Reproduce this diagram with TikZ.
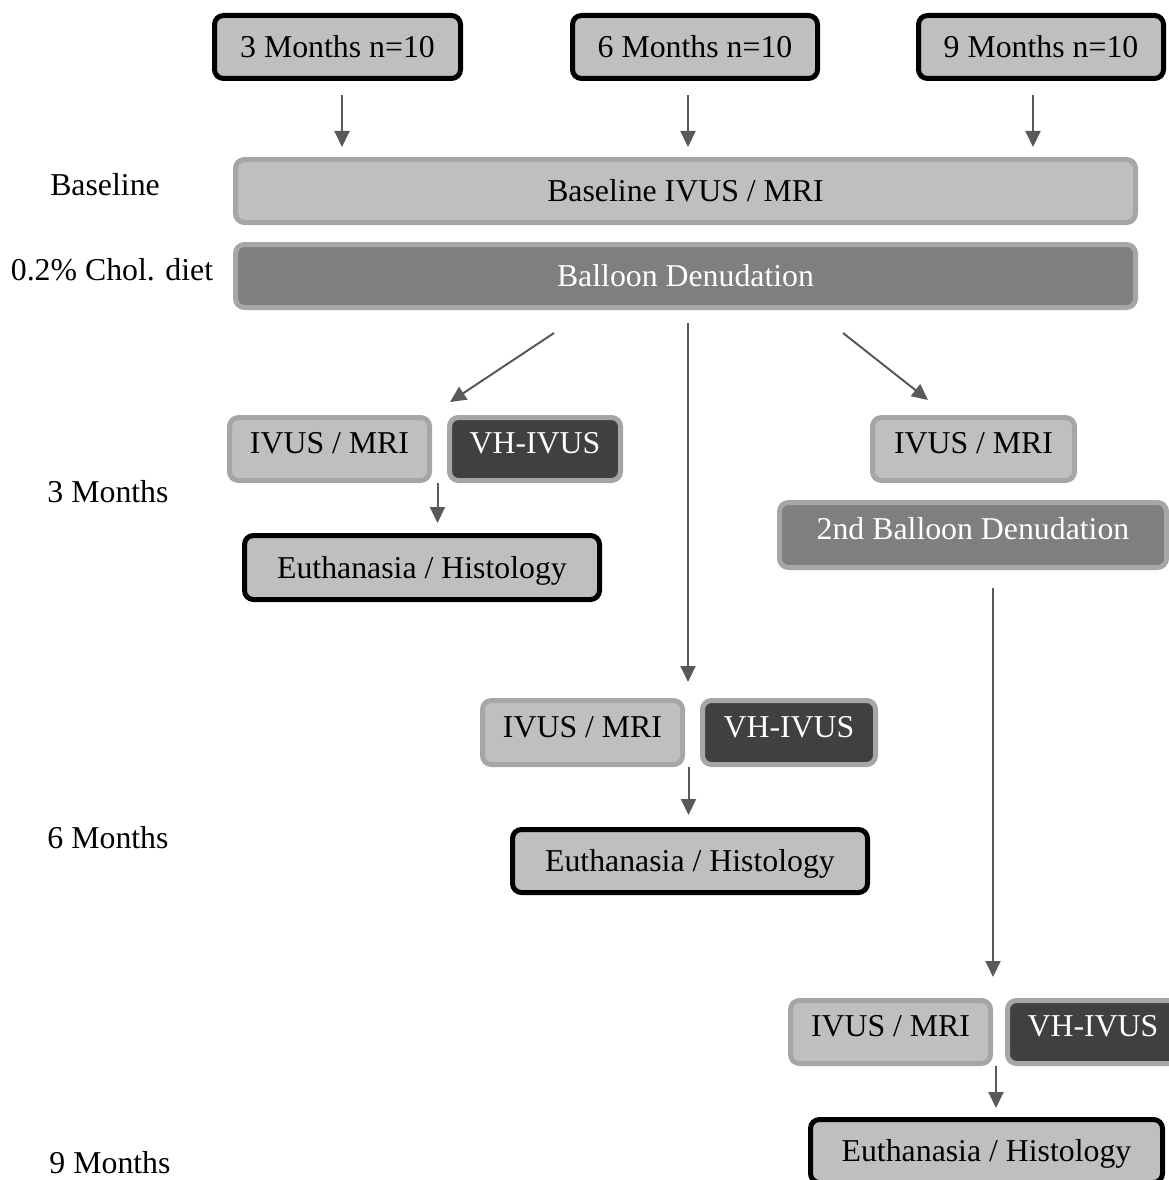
\documentclass[tikz,border=0pt]{standalone}
\usepackage{fontspec}
\setmainfont{Liberation Serif}
\usetikzlibrary{arrows.meta,calc}
\definecolor{lightf}{HTML}{BFBFBF}
\definecolor{bord}{HTML}{A6A6A6}
\definecolor{midf}{HTML}{7F7F7F}
\definecolor{darkf}{HTML}{404040}
\definecolor{arrc}{HTML}{595959}
\begin{document}
\begin{tikzpicture}[x=1pt,y=-1pt,
 every node/.style={font=\fontsize{31.8}{38}\selectfont, inner sep=0pt},
 boxbase/.style={rounded corners=9pt, line width=5pt, text height=22pt, text depth=1pt, align=center},
 blackbox/.style={boxbase, draw=black, fill=lightf},
 graybox/.style={boxbase, draw=bord, fill=lightf},
 midbox/.style={boxbase, draw=bord, fill=midf, text=white},
 darkbox/.style={boxbase, draw=bord, fill=darkf, text=white},
 raised/.style={text depth=13pt},
 sz/.style 2 args={minimum width=#1pt, minimum height=#2pt},
 arr/.style={draw=arrc, line width=2pt, -{Triangle[length=16pt,width=15pt]}},
 lab/.style={text height=21pt, text depth=0pt}]
\useasboundingbox (0,0) rectangle (1169,1180);

% top boxes
\node[blackbox, sz={246}{63}] (t3) at (337.5,47) {3 Months n=10};
\node[blackbox, sz={245}{63}] (t6) at (695,47) {6 Months n=10};
\node[blackbox, sz={245}{63}] (t9) at (1041,47) {9 Months n=10};
\node[graybox, sz={900}{63}] (base) at (685.5,191) {Baseline IVUS / MRI};
\node[midbox, sz={900}{63}] (bal) at (685.5,276) {Balloon Denudation};

% left labels
\node[lab] (lbase) at (105,185) {Baseline};
\node[lab] (ldiet) at (112,270) {0.2\% Chol. diet};
\node[lab] (l3) at (108,492) {3 Months};
\node[lab] (l6) at (108,838) {6 Months};
\node[lab] (l9) at (110,1163) {9 Months};

% 3 months group
\node[graybox, raised, sz={200}{63}] (iv3) at (329.5,449) {IVUS / MRI};
\node[darkbox, raised, sz={171}{63}] (vh3) at (535,449) {VH-IVUS};
\node[blackbox, sz={355}{64}] (eu3) at (422,567.5) {Euthanasia / Histology};
\node[graybox, raised, sz={202}{63}] (iv3r) at (973.5,449) {IVUS / MRI};
\node[midbox, raised, sz={387}{65}] (bal2) at (973,535) {2nd Balloon Denudation};

% 6 months group
\node[graybox, raised, sz={200}{64}] (iv6) at (582.5,732.5) {IVUS / MRI};
\node[darkbox, raised, sz={173}{64}] (vh6) at (789,732.5) {VH-IVUS};
\node[blackbox, sz={355}{63}] (eu6) at (690,861) {Euthanasia / Histology};

% 9 months group
\node[graybox, raised, sz={200}{63}] (iv9) at (890.5,1032) {IVUS / MRI};
\node[darkbox, raised, sz={171}{63}] (vh9) at (1093,1032) {VH-IVUS};
\node[blackbox, sz={352}{63}] (eu9) at (986.5,1151) {Euthanasia / Histology};

% arrows top
\draw[arr, shorten <=14pt, shorten >=10pt] ([xshift=4.5pt]t3.south) -- ([xshift=4.5pt]t3.south |- base.north);
\draw[arr, shorten <=14pt, shorten >=10pt] ([xshift=-7pt]t6.south) -- ([xshift=-7pt]t6.south |- base.north);
\draw[arr, shorten <=14pt, shorten >=10pt] ([xshift=-8pt]t9.south) -- ([xshift=-8pt]t9.south |- base.north);

% arrows from balloon
\coordinate (d1s) at (554,333);
\coordinate (d1e) at (450,402);
\draw[arr] (d1s) -- (d1e);
\coordinate (d2s) at (843,333);
\coordinate (d2e) at (928,400);
\draw[arr] (d2s) -- (d2e);
\draw[arr, shorten <=13pt, shorten >=16pt] ([xshift=2.5pt]bal.south) -- ([xshift=2.5pt]bal.south |- iv6.north);
\draw[arr, shorten <=18pt, shorten >=21pt] ([xshift=20pt]bal2.south) -- ([xshift=20pt]bal2.south |- iv9.north);

% short arrows
\coordinate (m3) at ($(iv3.south east)!0.5!(vh3.south west)$);
\draw[arr, shorten >=10pt] ([xshift=-2pt]m3) -- ([xshift=-2pt]m3 |- eu3.north);
\coordinate (m6) at ($(iv6.south east)!0.5!(vh6.south west)$);
\draw[arr, shorten >=12pt] ([xshift=-4pt]m6) -- ([xshift=-4pt]m6 |- eu6.north);
\coordinate (m9) at ($(iv9.south east)!0.5!(vh9.south west)$);
\draw[arr, shorten >=9pt] ([xshift=-3pt]m9) -- ([xshift=-3pt]m9 |- eu9.north);
\end{tikzpicture}
\end{document}
